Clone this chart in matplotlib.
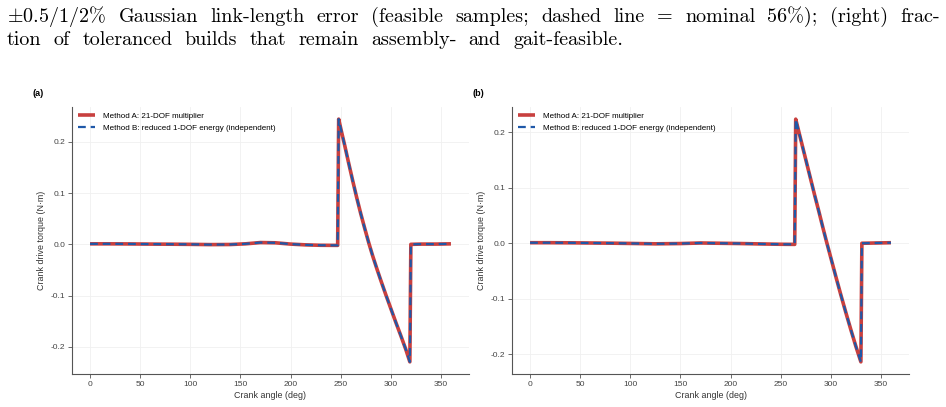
import matplotlib
matplotlib.use("Agg")
import matplotlib.pyplot as plt

plt.rcParams["font.family"] = ["Liberation Sans", "DejaVu Sans"]
plt.rcParams["mathtext.fontset"] = "cm"
plt.rcParams["axes.unicode_minus"] = False

# caption lines above the figure
caption_1 = r"$\pm$0.5/1/2% Gaussian link-length error (feasible samples; dashed line = nominal 56%); (right) frac-"
caption_2 = "tion of toleranced builds that remain assembly- and gait-feasible."

# panel (a)
angle_a = [0, 20, 40, 60, 80, 100, 120, 140, 155, 170, 185, 200, 215, 230, 247,
           248, 251, 254, 258, 262, 266, 270, 274, 278, 282, 286, 290, 295, 300,
           305, 310, 315, 319,
           320, 330, 345, 360]
torque_a = [0.001, 0.001, 0.0008, 0.0005, 0.0003, 0.0, -0.0005, -0.0003, 0.001, 0.0035,
            0.003, 0.0005, -0.001, -0.0018, -0.002,
            0.244, 0.218, 0.193, 0.158, 0.124, 0.091, 0.060, 0.031, 0.003, -0.023,
            -0.047, -0.070, -0.098, -0.125, -0.152, -0.178, -0.205, -0.229,
            0.0, 0.0005, 0.0005, 0.001]

# panel (b)
angle_b = [0, 20, 40, 60, 80, 100, 125, 150, 170, 190, 210, 230, 250, 264,
           265, 268, 272, 276, 280, 284, 288, 292, 296, 300, 305, 310, 315, 320,
           325, 330,
           331, 345, 360]
torque_b = [0.001, 0.001, 0.0008, 0.0005, 0.0002, -0.0003, -0.001, -0.0005, 0.0005, 0.0,
            -0.0005, -0.0012, -0.0018, -0.002,
            0.224, 0.202, 0.173, 0.144, 0.115, 0.086, 0.058, 0.029, 0.001, -0.026,
            -0.060, -0.093, -0.125, -0.156, -0.186, -0.214,
            0.0, 0.0005, 0.001]

label_a = "Method A: 21-DOF multiplier"
label_b = "Method B: reduced 1-DOF energy (independent)"
red = "#c8403f"
blue = "#1f58a8"
W, H = 946, 407

fig = plt.figure(figsize=(W / 100, H / 100), dpi=100)
cap_size = 14.5
fig.canvas.draw()
renderer = fig.canvas.get_renderer()


def spread_line(line, x0, x1, base):
    # place the words of one caption line so they run from x0 to x1 (pixels)
    words = line.split(" ")
    texts = [fig.text(0, 1 - base / H, w, fontfamily="cmr10", fontsize=cap_size,
                      va="baseline") for w in words]
    widths = [t.get_window_extent(renderer).width for t in texts]
    gap = (x1 - x0 - sum(widths)) / (len(words) - 1)
    xpos = x0
    for t, w in zip(texts, widths):
        t.set_x(xpos / W)
        xpos += w + gap


spread_line(caption_1, 7, 940, 22)
spread_line(caption_2, 7, 623, 45)

panels = [(72, angle_a, torque_a, "(a)", 32), (512, angle_b, torque_b, "(b)", 472)]
for left, x, y, tag, tag_x in panels:
    ax = fig.add_axes([left / W, 1 - 374 / H, 397 / W, 267 / H])
    ax.plot(x, y, color=red, lw=2.6, solid_capstyle="butt", label=label_a)
    ax.plot(x, y, color=blue, lw=1.6, ls=(0, (3.5, 2.2)), label=label_b)
    ax.set_xticks([0, 50, 100, 150, 200, 250, 300, 350])
    ax.set_yticks([-0.2, -0.1, 0.0, 0.1, 0.2])
    ax.set_yticklabels(["-0.2", "-0.1", "0.0", "0.1", "0.2"])
    ax.grid(True, color="#f0f0f0", lw=0.6)
    ax.set_axisbelow(True)
    for s in ["top", "right"]:
        ax.spines[s].set_visible(False)
    for s in ["left", "bottom"]:
        ax.spines[s].set_color("#555555")
        ax.spines[s].set_linewidth(0.8)
    ax.tick_params(direction="out", length=3, width=0.6, color="#555555",
                   labelsize=6, labelcolor="#444444", pad=2)
    ax.set_xlabel("Crank angle (deg)", fontsize=6.4, color="#333333", labelpad=2)
    ax.set_ylabel("Crank drive torque (N·m)", fontsize=6.4, color="#333333", labelpad=3)
    ax.legend(loc="upper left", frameon=False, fontsize=5.8, handlelength=2.2,
              borderaxespad=0.3, labelspacing=0.45, handletextpad=0.9)
    fig.text(tag_x / W, 1 - 93 / H, tag, fontsize=6.5, fontweight="bold", va="center")

fig.savefig("out.png", dpi=100)
